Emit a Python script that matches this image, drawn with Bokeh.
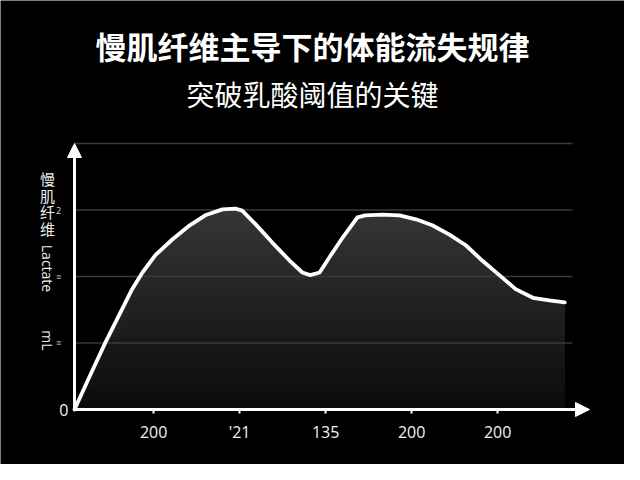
import numpy as np
from bokeh.plotting import figure
from bokeh.models import Label, Arrow, NormalHead, FixedTicker
from bokeh.embed import file_html
from bokeh.resources import INLINE

# ---------------- data ----------------
title_text = "慢肌纤维主导下的体能流失规律"
subtitle_text = "突破乳酸阈值的关键"
y_label_chars = ["慢", "肌", "纤", "维"]
y_side_texts = ["Lactate", "mL"]
y_small_marks = ["2", "≡", "≡"]

x_ticks = [1, 2, 3, 4, 5]
x_tick_labels = ["200", "'21", "135", "200", "200"]
y_ticks = [0]
y_tick_labels = ["0"]
grid_levels = [1, 2, 3, 4]

curve_x = [0.08, 0.25, 0.44, 0.75, 0.87, 1.02, 1.22, 1.42, 1.60, 1.80, 1.95,
           2.03, 2.19, 2.38, 2.58, 2.73, 2.82, 2.93, 3.05, 3.20, 3.37, 3.46,
           3.66, 3.86, 4.05, 4.24, 4.44, 4.63, 4.82, 5.02, 5.21, 5.41, 5.60,
           5.78]
curve_y = [0.00, 0.48, 1.01, 1.81, 2.06, 2.32, 2.56, 2.77, 2.92, 3.01, 3.02,
           2.99, 2.78, 2.51, 2.24, 2.06, 2.02, 2.06, 2.30, 2.59, 2.89, 2.92,
           2.93, 2.92, 2.86, 2.77, 2.63, 2.47, 2.24, 2.02, 1.81, 1.68, 1.64,
           1.61]

# ---------------- layout helpers (page pixel -> data) ----------------
W, H = 624, 464
PAGE_LEFT, PAGE_BASE, UNIT_X, UNIT_Y = 82.0, 417.0, 86.0, 66.5
X_ORIGIN = 0.08


def px2x(px):
    return X_ORIGIN + (px - PAGE_LEFT) / UNIT_X


def py2y(py):
    return (PAGE_BASE - py) / UNIT_Y


X_TIP = px2x(597)
Y_TIP = py2y(151)

p = figure(width=W, height=H,
           x_range=(px2x(8), px2x(8 + W)), y_range=(py2y(8 + H), py2y(8)),
           output_backend="svg", toolbar_location=None, title=None,
           min_border=0, min_border_left=0, min_border_right=0,
           min_border_top=0, min_border_bottom=0)
p.background_fill_color = "black"
p.border_fill_color = "black"
p.outline_line_color = None
p.xgrid.visible = False
p.ygrid.visible = False

# gradient area fill (layers, dark at bottom, lighter toward the top)
cx = np.array(curve_x)
cy = np.array(curve_y)
n_layers = 40
levels = np.linspace(0.0, max(curve_y) + 0.05, n_layers + 1)[1:]
for lev in levels[::-1]:
    t = lev / levels[-1]
    c = int(round(10 + t * 44))
    col = "#%02x%02x%02x" % (c, c, c)
    p.varea(x=cx, y1=np.zeros_like(cy), y2=np.minimum(cy, lev),
            fill_color=col, fill_alpha=1.0)

# grid lines
p.segment(x0=[X_ORIGIN] * len(grid_levels), y0=grid_levels,
          x1=[px2x(580)] * len(grid_levels), y1=grid_levels,
          line_color="#3a3a3a", line_width=1.3)

# curve
p.line(cx, cy, line_color="white", line_width=3.8, line_join="round",
       line_cap="round")

# axes (fixed at the origin, bounded to the arrow tips)
xa = p.xaxis[0]
xa.fixed_location = 0
xa.bounds = (X_ORIGIN, X_TIP - 0.05)
xa.ticker = FixedTicker(ticks=x_ticks)
xa.major_label_overrides = {t: l for t, l in zip(x_ticks, x_tick_labels)}
xa.axis_line_color = "white"
xa.axis_line_width = 3
xa.major_tick_line_color = "white"
xa.major_tick_line_width = 2
xa.major_tick_in = 0
xa.major_tick_out = 4
xa.minor_tick_line_color = None
xa.major_label_text_color = "#f2f2f2"
xa.major_label_text_font = "Open Sans"
xa.major_label_text_font_size = "16px"
xa.major_label_standoff = 7

ya = p.yaxis[0]
ya.fixed_location = X_ORIGIN
ya.bounds = (0, Y_TIP - 0.05)
ya.ticker = FixedTicker(ticks=y_ticks)
ya.major_label_overrides = {t: l for t, l in zip(y_ticks, y_tick_labels)}
ya.axis_line_color = "white"
ya.axis_line_width = 3
ya.major_tick_line_color = None
ya.major_tick_in = 0
ya.major_tick_out = 0
ya.minor_tick_line_color = None
ya.major_label_text_color = "#f2f2f2"
ya.major_label_text_font = "Open Sans"
ya.major_label_text_font_size = "16px"
ya.major_label_standoff = 6

# arrow heads
p.add_layout(Arrow(end=NormalHead(size=14, fill_color="white", line_color="white"),
                   x_start=X_TIP - 0.2, y_start=0, x_end=X_TIP, y_end=0,
                   line_color="white", line_width=3))
p.add_layout(Arrow(end=NormalHead(size=14, fill_color="white", line_color="white"),
                   x_start=X_ORIGIN, y_start=Y_TIP - 0.2, x_end=X_ORIGIN, y_end=Y_TIP,
                   line_color="white", line_width=3))

# titles
p.add_layout(Label(x=px2x(320), y=py2y(53), text=title_text,
                   text_align="center", text_baseline="middle",
                   text_font="Noto Sans CJK SC", text_font_style="bold",
                   text_font_size="31px", text_color="white"))
p.add_layout(Label(x=px2x(320), y=py2y(101), text=subtitle_text,
                   text_align="center", text_baseline="middle",
                   text_font="Noto Sans CJK SC", text_font_size="28px",
                   text_color="white"))

# y-axis side labels
for i, ch in enumerate(y_label_chars):
    p.add_layout(Label(x=px2x(55), y=py2y(186 + i * 16.5), text=ch,
                       text_align="center", text_baseline="middle",
                       text_font="Noto Sans CJK SC", text_font_size="15px",
                       text_color="#eeeeee"))
p.add_layout(Label(x=px2x(55), y=py2y(276), text=y_side_texts[0], angle=-np.pi / 2,
                   text_align="center", text_baseline="middle",
                   text_font="Open Sans", text_font_size="14px", text_color="#eeeeee"))
p.add_layout(Label(x=px2x(55), y=py2y(348), text=y_side_texts[1], angle=-np.pi / 2,
                   text_align="center", text_baseline="middle",
                   text_font="Open Sans", text_font_size="14px", text_color="#eeeeee"))
for txt, yy in zip(y_small_marks, [218, 284, 350]):
    p.add_layout(Label(x=px2x(66), y=py2y(yy), text=txt,
                       text_align="center", text_baseline="middle",
                       text_font="Open Sans", text_font_size="9px",
                       text_color="#dddddd"))

open("out.html", "w").write(file_html(p, INLINE))
